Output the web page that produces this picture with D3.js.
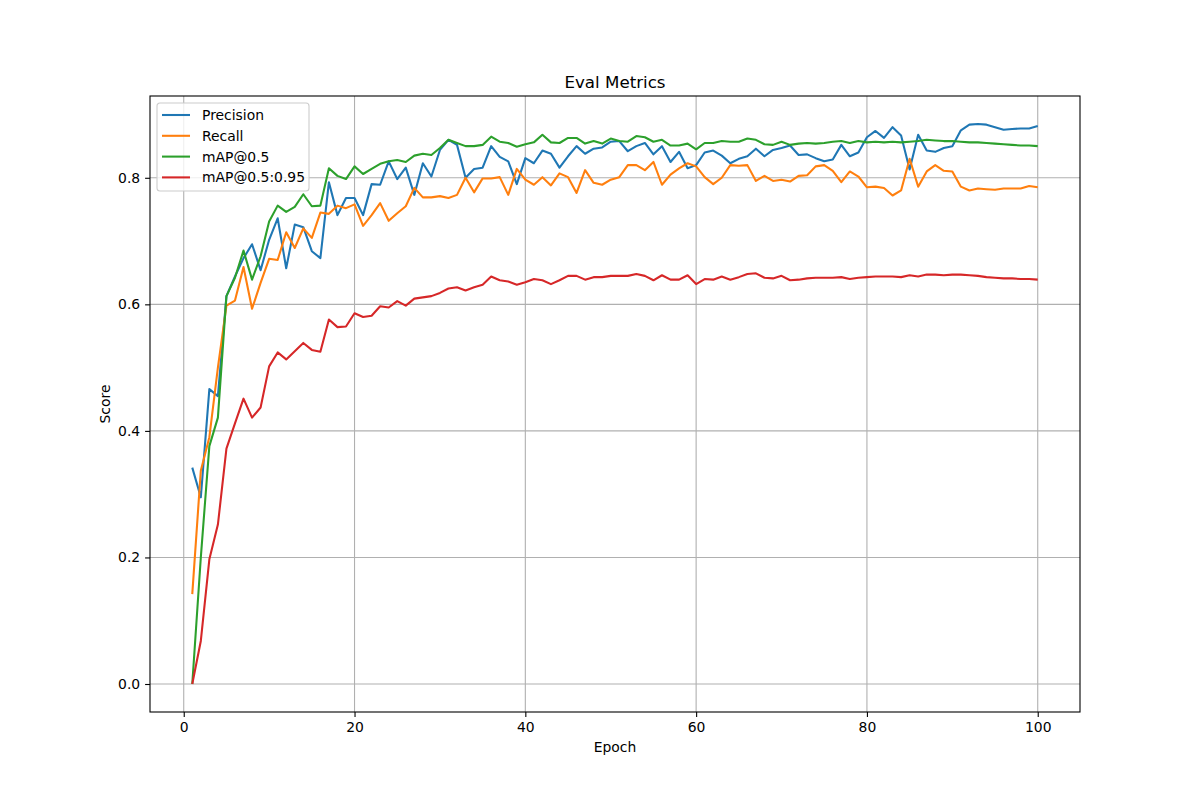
<!DOCTYPE html>
<html>
<head>
<meta charset="utf-8">
<script src="https://cdn.jsdelivr.net/npm/d3@7"></script>
<style>
  html, body { margin: 0; padding: 0; background: #fff; }
  svg { display: block; font-family: "DejaVu Sans", sans-serif; }
</style>
</head>
<body>
<svg id="chart" width="1200" height="800"></svg>
<script>
const epochs = d3.range(1, 101);

const precision = [
  0.342, 0.295, 0.466, 0.455, 0.613, 0.644, 0.673, 0.695, 0.654, 0.702,
  0.736, 0.657, 0.726, 0.722, 0.684, 0.673, 0.793, 0.741, 0.768, 0.768,
  0.741, 0.790, 0.789, 0.826, 0.798, 0.816, 0.773, 0.823, 0.802, 0.844,
  0.860, 0.852, 0.800, 0.814, 0.816, 0.850, 0.833, 0.826, 0.790, 0.831,
  0.823, 0.843, 0.838, 0.816, 0.834, 0.850, 0.838, 0.846, 0.848, 0.857,
  0.858, 0.842, 0.850, 0.855, 0.837, 0.850, 0.825, 0.841, 0.815, 0.820,
  0.840, 0.843, 0.835, 0.823, 0.830, 0.834, 0.846, 0.834, 0.844, 0.847,
  0.851, 0.836, 0.837, 0.831, 0.826, 0.829, 0.852, 0.834, 0.840, 0.864,
  0.874, 0.863, 0.880, 0.867, 0.813, 0.868, 0.843, 0.841, 0.847, 0.850,
  0.875, 0.884, 0.885, 0.884, 0.880, 0.876, 0.877, 0.878, 0.878, 0.882
];

const recall = [
  0.142, 0.337, 0.390, 0.500, 0.598, 0.606, 0.659, 0.593, 0.634, 0.672,
  0.670, 0.714, 0.689, 0.720, 0.705, 0.745, 0.743, 0.756, 0.752, 0.758,
  0.724, 0.741, 0.760, 0.732, 0.744, 0.755, 0.784, 0.769, 0.769, 0.771,
  0.768, 0.773, 0.800, 0.777, 0.799, 0.799, 0.801, 0.773, 0.814, 0.797,
  0.789, 0.801, 0.788, 0.807, 0.801, 0.776, 0.812, 0.792, 0.789, 0.797,
  0.801, 0.820, 0.820, 0.812, 0.825, 0.789, 0.805, 0.815, 0.823, 0.818,
  0.801, 0.790, 0.800, 0.820, 0.819, 0.820, 0.795, 0.803, 0.795, 0.797,
  0.794, 0.803, 0.804, 0.818, 0.820, 0.811, 0.793, 0.810, 0.802, 0.785,
  0.786, 0.784, 0.772, 0.780, 0.830, 0.786, 0.810, 0.820, 0.811, 0.810,
  0.786, 0.780, 0.783, 0.782, 0.781, 0.783, 0.783, 0.783, 0.787, 0.785
];

const map50 = [
  0.000, 0.200, 0.376, 0.421, 0.613, 0.642, 0.685, 0.639, 0.676, 0.731,
  0.756, 0.746, 0.754, 0.774, 0.755, 0.756, 0.815, 0.803, 0.798, 0.818,
  0.806, 0.814, 0.822, 0.826, 0.828, 0.825, 0.835, 0.838, 0.836, 0.847,
  0.860, 0.855, 0.850, 0.850, 0.852, 0.865, 0.857, 0.855, 0.849, 0.853,
  0.856, 0.868, 0.856, 0.855, 0.863, 0.863, 0.854, 0.858, 0.854, 0.862,
  0.858, 0.857, 0.866, 0.864, 0.857, 0.860, 0.851, 0.851, 0.854, 0.845,
  0.855, 0.855, 0.858, 0.857, 0.857, 0.862, 0.860, 0.853, 0.852, 0.857,
  0.852, 0.854, 0.855, 0.854, 0.855, 0.857, 0.858, 0.855, 0.858, 0.856,
  0.857, 0.856, 0.857, 0.856, 0.857, 0.858, 0.860, 0.859, 0.858, 0.858,
  0.857, 0.856, 0.856, 0.855, 0.854, 0.853, 0.852, 0.851, 0.851, 0.850
];

const map5095 = [
  0.000, 0.068, 0.197, 0.252, 0.372, 0.412, 0.451, 0.421, 0.437, 0.502,
  0.524, 0.513, 0.526, 0.539, 0.528, 0.525, 0.576, 0.564, 0.565, 0.586,
  0.580, 0.582, 0.597, 0.595, 0.605, 0.598, 0.609, 0.611, 0.613, 0.618,
  0.625, 0.627, 0.622, 0.627, 0.631, 0.644, 0.638, 0.636, 0.631, 0.635,
  0.640, 0.638, 0.632, 0.638, 0.645, 0.645, 0.639, 0.643, 0.643, 0.645,
  0.645, 0.645, 0.648, 0.645, 0.638, 0.646, 0.639, 0.639, 0.646, 0.632,
  0.640, 0.639, 0.644, 0.639, 0.643, 0.648, 0.649, 0.642, 0.641, 0.645,
  0.638, 0.639, 0.641, 0.642, 0.642, 0.642, 0.643, 0.640, 0.642, 0.643,
  0.644, 0.644, 0.644, 0.643, 0.646, 0.644, 0.647, 0.647, 0.646, 0.647,
  0.647, 0.646, 0.645, 0.643, 0.642, 0.641, 0.641, 0.640, 0.640, 0.639
];

const seriesNames = ["Precision", "Recall", "mAP@0.5", "mAP@0.5:0.95"];
const seriesColors = ["#1f77b4", "#ff7f0e", "#2ca02c", "#d62728"];
const seriesValues = [precision, recall, map50, map5095];
const xTicks = [0, 20, 40, 60, 80, 100];
const yTicks = [0.0, 0.2, 0.4, 0.6, 0.8];

const W = 1200, H = 800;
const m = { left: 150, right: 120, top: 96, bottom: 88 };
const pw = W - m.left - m.right, ph = H - m.top - m.bottom;

const svg = d3.select("#chart");
const g = svg.append("g").attr("transform", `translate(${m.left},${m.top})`);

// matplotlib-like 5% margins
const xmin = 1, xmax = 100, xpad = (xmax - xmin) * 0.05;
const allVals = seriesValues.flat();
const ymin = d3.min(allVals), ymax = d3.max(allVals), ypad = (ymax - ymin) * 0.05;
const x = d3.scaleLinear().domain([xmin - xpad, xmax + xpad]).range([0, pw]);
const y = d3.scaleLinear().domain([ymin - ypad, ymax + ypad]).range([ph, 0]);

// grid
g.append("g").selectAll("line").data(xTicks).join("line")
  .attr("x1", d => x(d)).attr("x2", d => x(d)).attr("y1", 0).attr("y2", ph)
  .attr("stroke", "#b0b0b0").attr("stroke-width", 1.1);
g.append("g").selectAll("line").data(yTicks).join("line")
  .attr("y1", d => y(d)).attr("y2", d => y(d)).attr("x1", 0).attr("x2", pw)
  .attr("stroke", "#b0b0b0").attr("stroke-width", 1.1);

// lines
const line = d3.line().x((d, i) => x(epochs[i])).y(d => y(d));
seriesValues.forEach((vals, k) => {
  g.append("path").datum(vals)
    .attr("d", line)
    .attr("fill", "none")
    .attr("stroke", seriesColors[k])
    .attr("stroke-width", 2.08)
    .attr("stroke-linejoin", "round")
    .attr("stroke-linecap", "butt");
});

// axes
const fs = 13.9;
const xAxis = g.append("g").attr("transform", `translate(0,${ph})`)
  .call(d3.axisBottom(x).tickValues(xTicks).tickSize(4.9).tickPadding(4.9).tickFormat(d3.format("d")));
const yAxis = g.append("g")
  .call(d3.axisLeft(y).tickValues(yTicks).tickSize(4.9).tickPadding(4.9).tickFormat(d3.format(".1f")));
[xAxis, yAxis].forEach(a => {
  a.select(".domain").remove();
  a.selectAll("line").attr("stroke", "#000").attr("stroke-width", 1.1);
  a.selectAll("text").attr("font-size", fs).attr("fill", "#000")
    .attr("font-family", "DejaVu Sans, sans-serif");
});

// frame
g.append("rect").attr("x", 0).attr("y", 0).attr("width", pw).attr("height", ph)
  .attr("fill", "none").attr("stroke", "#000").attr("stroke-width", 1.1);

// labels
svg.append("text").attr("x", m.left + pw / 2).attr("y", 88)
  .attr("text-anchor", "middle").attr("font-size", 16.7).text("Eval Metrics");
svg.append("text").attr("x", m.left + pw / 2).attr("y", 752)
  .attr("text-anchor", "middle").attr("font-size", fs).text("Epoch");
svg.append("text").attr("transform", `translate(110,${m.top + ph / 2}) rotate(-90)`)
  .attr("text-anchor", "middle").attr("font-size", fs).text("Score");

// legend
const lg = g.append("g").attr("transform", "translate(7,7)");
lg.append("rect").attr("x", 0).attr("y", 0).attr("width", 152).attr("height", 88)
  .attr("rx", 3).attr("fill", "#fff").attr("fill-opacity", 0.8)
  .attr("stroke", "#cccccc").attr("stroke-width", 1.1);
seriesNames.forEach((name, k) => {
  const cy = 12 + k * 20.8;
  lg.append("line").attr("x1", 5).attr("x2", 33).attr("y1", cy).attr("y2", cy)
    .attr("stroke", seriesColors[k]).attr("stroke-width", 2.08);
  lg.append("text").attr("x", 45).attr("y", cy + 5).attr("font-size", fs).text(name);
});
</script>
</body>
</html>
